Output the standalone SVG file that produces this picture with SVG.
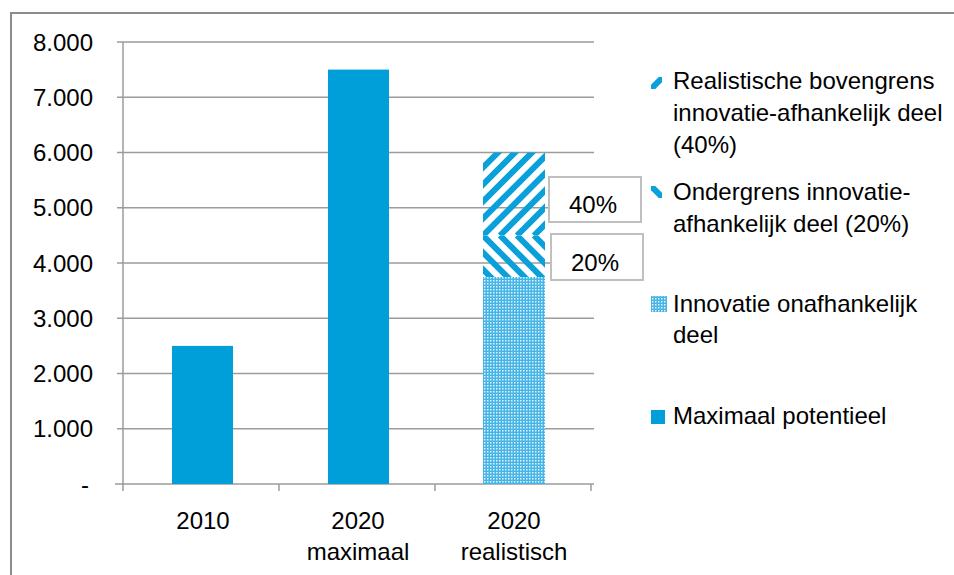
<svg xmlns="http://www.w3.org/2000/svg" width="954" height="575" viewBox="0 0 954 575">
<style>
text{font-family:"Liberation Sans",Arial,sans-serif;font-size:24px;fill:#000}
.yl{text-anchor:end}
.cl{text-anchor:middle}
.grid{stroke:#9c9c9c;stroke-width:1.5;fill:none}
.axis{stroke:#8c8c8c;stroke-width:2;fill:none}
.solid{fill:#009fda}
.stripe{stroke:#0aa0da;stroke-width:6;fill:none}
.box{fill:#fff;stroke:#c0c0c0;stroke-width:2}
</style>
<defs>
<pattern id="chk" patternUnits="userSpaceOnUse" width="3" height="3">
<rect width="3" height="3" fill="#45b5e6"/>
<rect x="1" y="1" width="1.5" height="1.5" fill="#e4f5fd"/>
</pattern>
<clipPath id="cTop"><rect x="483" y="152.5" width="62" height="83"/></clipPath>
<clipPath id="cBot"><rect x="483" y="235.5" width="62" height="41.5"/></clipPath>
<clipPath id="iTop"><rect x="651" y="77" width="11" height="12"/></clipPath>
<clipPath id="iBot"><rect x="651" y="186" width="11" height="12"/></clipPath>
</defs>
<rect width="954" height="575" fill="#fff"/>
<path class="axis" d="M11 575V13H954"/>
<g id="gridlines">
<path class="grid" d="M117 42H594M117 97.25H594M117 152.5H594M117 207.75H594M117 263H594M117 318.25H594M117 373.5H594M117 428.75H594"/>
</g>
<g id="axes">
<path class="grid" d="M123 42V491M115 484H594M279 484V491M435 484V491M591 484V491"/>
</g>
<g id="y-labels">
<text class="yl" x="93" y="50.5">8.000</text>
<text class="yl" x="93" y="105.75">7.000</text>
<text class="yl" x="93" y="161">6.000</text>
<text class="yl" x="93" y="216.25">5.000</text>
<text class="yl" x="93" y="271.5">4.000</text>
<text class="yl" x="93" y="326.75">3.000</text>
<text class="yl" x="93" y="382">2.000</text>
<text class="yl" x="93" y="437.25">1.000</text>
<text class="yl" x="89" y="492.5">-</text>
</g>
<g id="bar-2010"><rect class="solid" x="172" y="345.9" width="61" height="138.1"/></g>
<g id="bar-2020-max"><rect class="solid" x="328" y="69.6" width="61" height="414.4"/></g>
<g id="bar-2020-real">
<rect x="483" y="277" width="62" height="207" fill="url(#chk)"/>
<g clip-path="url(#cTop)">
<path class="stripe" d="M415 235.5l100-100M432 235.5l100-100M449 235.5l100-100M466 235.5l100-100M483 235.5l100-100M500 235.5l100-100M517 235.5l100-100M534 235.5l100-100M551 235.5l100-100"/>
</g>
<g clip-path="url(#cBot)">
<path class="stripe" d="M432 235.5l60 60M449 235.5l60 60M466 235.5l60 60M483 235.5l60 60M500 235.5l60 60M517 235.5l60 60M534 235.5l60 60"/>
</g>
</g>
<g id="label-40">
<rect class="box" x="549" y="177" width="92" height="45"/>
<text x="593" y="213" class="cl">40%</text>
</g>
<g id="label-20">
<rect class="box" x="551" y="234" width="92" height="46"/>
<text x="595" y="271" class="cl">20%</text>
</g>
<g id="x-labels">
<text class="cl" x="203" y="529">2010</text>
<text class="cl" x="358" y="529">2020</text>
<text class="cl" x="358" y="560">maximaal</text>
<text class="cl" x="514" y="529">2020</text>
<text class="cl" x="514" y="560">realistisch</text>
</g>
<g id="legend-bovengrens">
<g clip-path="url(#iTop)"><path class="stripe" d="M648 92l16-16" stroke-width="5"/></g>
<text x="673" y="89">Realistische bovengrens</text>
<text x="673" y="121">innovatie-afhankelijk deel</text>
<text x="673" y="153">(40%)</text>
</g>
<g id="legend-ondergrens">
<g clip-path="url(#iBot)"><path class="stripe" d="M648 183l16 16" stroke-width="5"/></g>
<text x="673" y="200">Ondergrens innovatie-</text>
<text x="673" y="232">afhankelijk deel (20%)</text>
</g>
<g id="legend-onafhankelijk">
<rect x="651" y="296" width="16" height="16" fill="url(#chk)"/>
<text x="673" y="312">Innovatie onafhankelijk</text>
<text x="673" y="343">deel</text>
</g>
<g id="legend-maximaal">
<rect class="solid" x="651" y="410" width="14" height="14"/>
<text x="673" y="424">Maximaal potentieel</text>
</g>
</svg>
